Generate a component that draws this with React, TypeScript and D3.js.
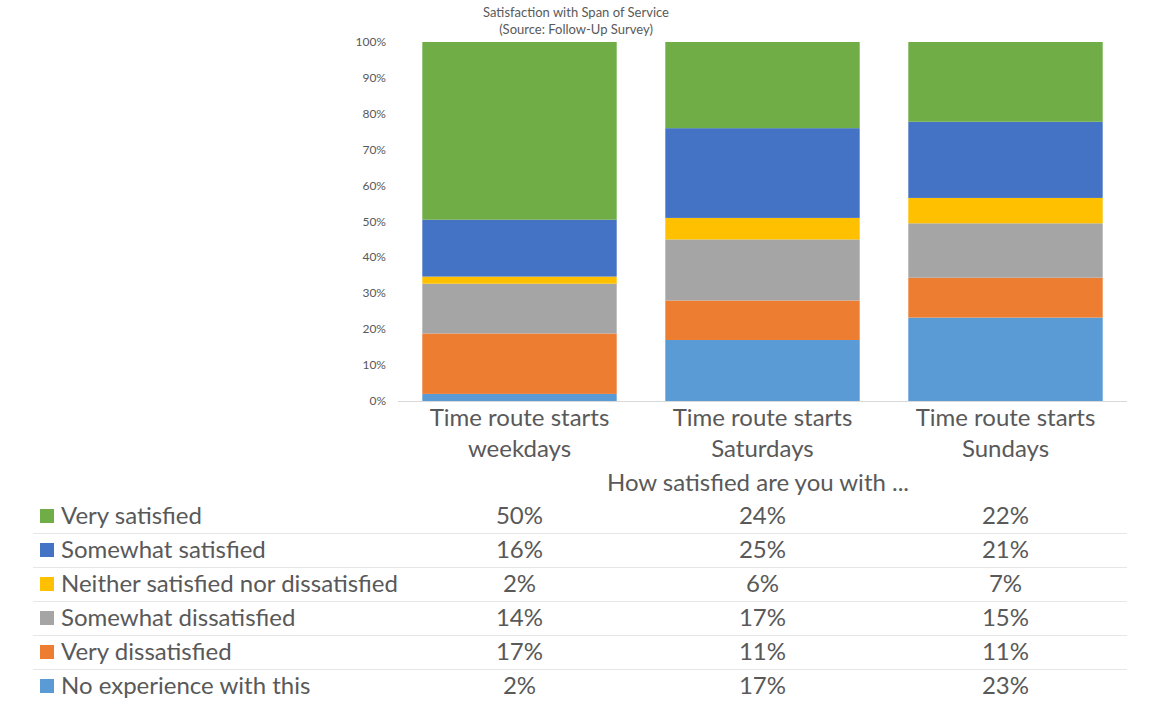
import React from "react";
import * as d3 from "d3";

const categories = ["Time route starts weekdays", "Time route starts Saturdays", "Time route starts Sundays"];
const categoryLines = [["Time route starts", "weekdays"], ["Time route starts", "Saturdays"], ["Time route starts", "Sundays"]];
const seriesNames = [
  "No experience with this",
  "Very dissatisfied",
  "Somewhat dissatisfied",
  "Neither satisfied nor dissatisfied",
  "Somewhat satisfied",
  "Very satisfied",
];
const seriesColors = ["#5b9bd5", "#ed7d31", "#a5a5a5", "#ffc000", "#4472c4", "#70ad47"];
const noExperience = [2, 17, 23];
const veryDissatisfied = [17, 11, 11];
const somewhatDissatisfied = [14, 17, 15];
const neither = [2, 6, 7];
const somewhatSatisfied = [16, 25, 21];
const verySatisfied = [50, 24, 22];
const yTicks = [0, 0.1, 0.2, 0.3, 0.4, 0.5, 0.6, 0.7, 0.8, 0.9, 1];

const seriesValues = [noExperience, veryDissatisfied, somewhatDissatisfied, neither, somewhatSatisfied, verySatisfied];

export default function App() {
  const W = 1151, H = 707;
  const left = 398, right = 1127, top = 42, bottom = 401;
  const x = d3.scaleBand().domain(categories).range([left, right]).paddingInner(0.2).paddingOuter(0.1);
  const y = d3.scaleLinear().domain([0, 1]).range([bottom, top]);
  const rows = categories.map((c, i) => {
    const r: any = { cat: c };
    seriesNames.forEach((s, j) => (r[s] = seriesValues[j][i]));
    return r;
  });
  const stacked = d3.stack().keys(seriesNames).offset(d3.stackOffsetExpand)(rows as any);
  const text = "#595959";
  const font = "Lato, 'Open Sans', sans-serif";
  const tableOrder = [5, 4, 3, 2, 1, 0];
  const rowTop = 499, rowH = 34;
  const fmt = d3.format(".0%");
  const big = 24;
  return (
    <svg width={W} height={H} style={{ position: "absolute", left: 0, top: 0, background: "#fff" }} fontFamily={font}>
      <text x={576} y={17} textAnchor="middle" fontSize={13} fill={text}>Satisfaction with Span of Service</text>
      <text x={576} y={34} textAnchor="middle" fontSize={13} fill={text}>(Source: Follow-Up Survey)</text>
      {yTicks.map((t) => (
        <text key={t} x={386} y={y(t) + 4} textAnchor="end" fontSize={12} fill={text}>{fmt(t)}</text>
      ))}
      {stacked.map((s, j) => (
        <g key={s.key} fill={seriesColors[j]}>
          {s.map((d: any, i: number) => (
            <rect key={i} x={x(categories[i])} width={x.bandwidth()} y={y(d[1])} height={y(d[0]) - y(d[1])} />
          ))}
        </g>
      ))}
      <line x1={left} x2={right} y1={bottom + 0.5} y2={bottom + 0.5} stroke="#d9d9d9" />
      {categories.map((c, i) => (
        <g key={c}>
          {categoryLines[i].map((l, k) => (
            <text key={k} x={x(c)! + x.bandwidth() / 2} y={426 + k * 31} textAnchor="middle" fontSize={big} fill={text}>{l}</text>
          ))}
        </g>
      ))}
      <text x={758} y={491} textAnchor="middle" fontSize={big} fill={text}>How satisfied are you with ...</text>
      {tableOrder.map((j, r) => {
        const cy = rowTop + r * rowH + rowH / 2;
        return (
          <g key={j}>
            {r > 0 && <line x1={33} x2={right} y1={rowTop + r * rowH + 0.5} y2={rowTop + r * rowH + 0.5} stroke="#e6e6e6" />}
            <rect x={40} y={cy - 7} width={14} height={14} fill={seriesColors[j]} />
            <text x={61} y={cy + 8} fontSize={big} fill={text}>{seriesNames[j]}</text>
            {categories.map((c, i) => (
              <text key={c} x={x(c)! + x.bandwidth() / 2} y={cy + 8} textAnchor="middle" fontSize={big} fill={text}>
                {seriesValues[j][i]}%
              </text>
            ))}
          </g>
        );
      })}
    </svg>
  );
}
